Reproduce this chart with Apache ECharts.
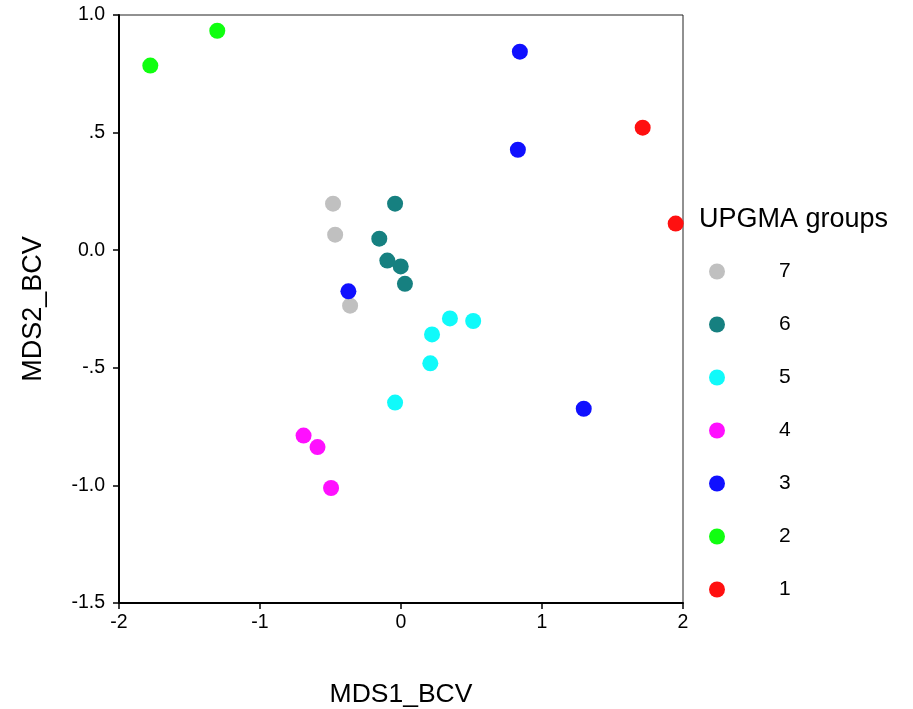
<!DOCTYPE html>
<html>
<head>
<meta charset="utf-8">
<script src="https://cdn.jsdelivr.net/npm/echarts@6/dist/echarts.min.js"></script>
<style>html,body{margin:0;padding:0;background:#fff}#c{width:913px;height:709px}</style>
</head>
<body>
<div id="c"></div>
<script>
const groupNames = ['7', '6', '5', '4', '3', '2', '1'];
const groupColors = ['#c0c0c0', '#168080', '#10fafa', '#ff10ff', '#1010ff', '#10ff10', '#ff1010'];
const group7 = [[-0.482, 0.198], [-0.467, 0.066], [-0.361, -0.236]];
const group6 = [[-0.042, 0.198], [-0.154, 0.049], [-0.097, -0.044], [-0.002, -0.069], [0.028, -0.143]];
const group5 = [[0.347, -0.290], [0.512, -0.301], [0.220, -0.358], [0.208, -0.481], [-0.042, -0.648]];
const group4 = [[-0.691, -0.788], [-0.592, -0.837], [-0.496, -1.011]];
const group3 = [[0.843, 0.844], [0.829, 0.427], [-0.373, -0.175], [1.296, -0.674]];
const group2 = [[-1.778, 0.785], [-1.303, 0.933]];
const group1 = [[1.714, 0.521], [1.948, 0.113]];
const groupData = [group7, group6, group5, group4, group3, group2, group1];
const xTickValues = [-2, -1, 0, 1, 2];
const xTickLabels = ['-2', '-1', '0', '1', '2'];
const yTickValues = [-1.5, -1, -0.5, 0, 0.5, 1];
const yTickLabels = ['-1.5', '-1.0', '-.5', '0.0', '.5', '1.0'];
const xTitle = 'MDS1_BCV';
const yTitle = 'MDS2_BCV';
const legendTitle = 'UPGMA groups';

const FONT = '"Liberation Sans", Arial, sans-serif';
function lookup(vals, labels, v) {
  for (let i = 0; i < vals.length; i++) if (Math.abs(vals[i] - v) < 1e-9) return labels[i];
  return '';
}
const chart = echarts.init(document.getElementById('c'), null, {renderer: 'canvas'});
const series = groupNames.map((n, i) => ({
  name: n,
  type: 'scatter',
  data: groupData[i],
  symbol: 'circle',
  symbolSize: 16,
  itemStyle: {color: groupColors[i], opacity: 1},
  z: 2 + i
}));
chart.setOption({
  animation: false,
  backgroundColor: '#fff',
  textStyle: {fontFamily: FONT},
  title: {
    text: legendTitle,
    left: 699,
    top: 206,
    padding: 0,
    textStyle: {fontFamily: FONT, fontSize: 27, fontWeight: 'normal', color: '#000', lineHeight: 27}
  },
  legend: {
    orient: 'vertical',
    left: 709,
    top: 261,
    padding: 0,
    itemWidth: 16,
    itemHeight: 16,
    itemGap: 32,
    data: groupNames,
    selectedMode: false,
    icon: 'circle',
    textStyle: {fontFamily: FONT, fontSize: 21, color: '#000', lineHeight: 16, padding: [0, 0, 0, 49]}
  },
  grid: {
    left: 119, right: 230, top: 15, bottom: 106,
    outerBoundsMode: 'none',
    containLabel: false,
    show: true, borderColor: '#222', borderWidth: 1, backgroundColor: 'transparent'
  },
  xAxis: {
    type: 'value', min: -2, max: 2, interval: 1,
    name: xTitle, nameLocation: 'middle', nameGap: 78,
    nameTextStyle: {fontFamily: FONT, fontSize: 26.5, color: '#000'},
    axisLine: {show: true, onZero: false, lineStyle: {color: '#000', width: 2}},
    axisTick: {show: true, inside: false, length: 6, lineStyle: {color: '#000', width: 1.5}},
    axisLabel: {fontFamily: FONT, fontSize: 19.5, color: '#000', margin: 10,
      formatter: v => lookup(xTickValues, xTickLabels, v)},
    splitLine: {show: false}
  },
  yAxis: {
    type: 'value', min: -1.5, max: 1, interval: 0.5,
    name: yTitle, nameLocation: 'middle', nameGap: 72, nameRotate: 90,
    nameTextStyle: {fontFamily: FONT, fontSize: 27, color: '#000'},
    axisLine: {show: true, onZero: false, lineStyle: {color: '#000', width: 2}},
    axisTick: {show: true, inside: false, length: 6, lineStyle: {color: '#000', width: 1.5}},
    axisLabel: {fontFamily: FONT, fontSize: 19.5, color: '#000', margin: 14,
      formatter: v => lookup(yTickValues, yTickLabels, v)},
    splitLine: {show: false}
  },
  series: series
});
</script>
</body>
</html>
